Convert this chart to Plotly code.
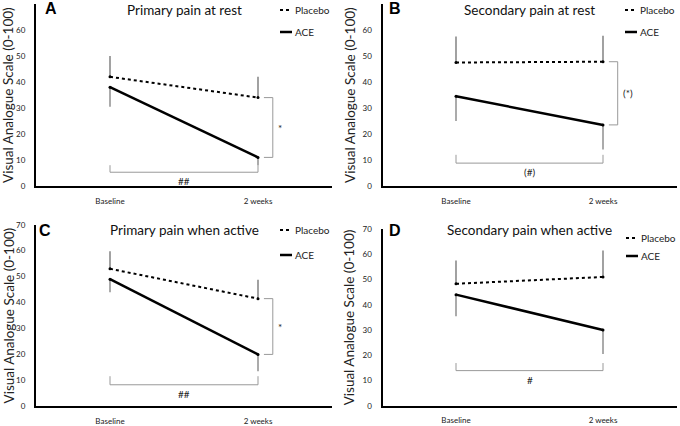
import plotly.graph_objects as go

# ---------------- data ----------------
categories = ["Baseline", "2 weeks"]
panel_letters = ["A", "B", "C", "D"]
panel_titles = ["Primary pain at rest", "Secondary pain at rest",
                "Primary pain when active", "Secondary pain when active"]

placebo_mean = [[42, 34], [47.5, 47.8], [53, 41.5], [48.3, 51]]
placebo_err_up = [[8, 8], [10, 10], [6.8, 7.3], [9.2, 10.5]]
ace_mean = [[38, 11], [34.5, 23.5], [49, 20], [44, 30]]
ace_err_down = [[7.5, 3], [9.5, 9.5], [5, 6.5], [8.6, 9.5]]

right_br_top = [34, 47.8, 41.5, None]
right_br_bottom = [11, 23.5, 20, None]
right_br_label = ["*", "(*)", "*", None]

bottom_br_level = [5.3, 8.8, 8.3, 13.9]
bottom_br_end = [8, 12, 11.6, 16.9]
bottom_br_label = ["##", "(#)", "##", "#"]

y_ticks = [0, 10, 20, 30, 40, 50, 60, 70]
y_title = "Visual Analogue Scale (0-100)"

# ---------------- layout geometry (pixels) ----------------
W, H = 680, 426
FONT = "Lato"
# (x0, x1, y_bottom, y_top) in pixels
panel_px = [(36, 332, 186, 4), (382.5, 676.5, 186, 4),
            (36, 332, 406.3, 224.7), (382.5, 676.5, 405.7, 229)]
title_py = [10, 10, 230, 230]
ytitle_px = [8, 350, 8, 349]
letter_px = [(51, 9), (395, 8), (45, 230), (395, 230)]
legend_px = [(280, 10, 32), (625, 10, 32), (280, 230, 255), (626, 238, 256)]


def px(x):
    return x / W


def py(y):
    return 1 - y / H


fig = go.Figure()
shapes = []
annotations = []
layout = {}

for i in range(4):
    sfx = "" if i == 0 else str(i + 1)
    xa, ya = "x" + sfx, "y" + sfx
    x0, x1, yb, yt = panel_px[i]
    layout["xaxis" + sfx] = dict(
        domain=[px(x0), px(x1)], range=[-0.5, 1.5], anchor=ya,
        tickvals=[0, 1], ticktext=categories, showline=True,
        linecolor="black", linewidth=2, ticks="", showgrid=False,
        zeroline=False, automargin=False,
        tickfont=dict(family=FONT, size=8, color="#222"),
        ticklabelstandoff=6, fixedrange=True)
    layout["yaxis" + sfx] = dict(
        domain=[py(yb), py(yt)], range=[0, 70], anchor=xa,
        tickvals=y_ticks, showline=True, linecolor="black", linewidth=2,
        ticks="", showgrid=False, zeroline=False, automargin=False,
        tickfont=dict(family=FONT, size=8, color="#222"),
        ticklabelstandoff=7, fixedrange=True)

    xs = [0, 1]
    fig.add_trace(go.Scatter(
        x=xs, y=placebo_mean[i], xaxis=xa, yaxis=ya, mode="lines+markers",
        line=dict(color="black", width=2, dash="dot"),
        marker=dict(size=3, color="black"), showlegend=False,
        error_y=dict(type="data", array=placebo_err_up[i],
                     arrayminus=[0, 0], symmetric=False, width=0,
                     thickness=1.1, color="#555")))
    fig.add_trace(go.Scatter(
        x=xs, y=ace_mean[i], xaxis=xa, yaxis=ya, mode="lines+markers",
        line=dict(color="black", width=2.5),
        marker=dict(size=3, color="black"), showlegend=False,
        error_y=dict(type="data", array=[0, 0],
                     arrayminus=ace_err_down[i], symmetric=False, width=0,
                     thickness=1.1, color="#666")))

    # right bracket
    if right_br_top[i] is not None:
        t, b = right_br_top[i], right_br_bottom[i]
        shapes.append(dict(
            type="path", xref=xa, yref=ya,
            path=f"M 1.04 {t} L 1.10 {t} L 1.10 {b} L 1.04 {b}",
            line=dict(color="#999", width=1)))
        annotations.append(dict(
            x=1.10, y=(t + b) / 2, xref=xa, yref=ya, text=right_br_label[i],
            showarrow=False, xanchor="left", yanchor="middle", xshift=3,
            font=dict(family=FONT, size=10, color="#222")))
    # bottom bracket
    lv, en = bottom_br_level[i], bottom_br_end[i]
    shapes.append(dict(
        type="path", xref=xa, yref=ya,
        path=f"M 0 {en} L 0 {lv} L 1 {lv} L 1 {en}",
        line=dict(color="#999", width=1)))
    annotations.append(dict(
        x=0.5, y=lv, xref=xa, yref=ya, text=bottom_br_label[i],
        showarrow=False, xanchor="center", yanchor="top", yshift=-1,
        font=dict(family=FONT, size=10, color="#222")))

    # title
    annotations.append(dict(
        x=px((x0 + x1) / 2), y=py(title_py[i]), xref="paper",
        yref="paper", text=panel_titles[i], showarrow=False,
        xanchor="center", yanchor="middle",
        font=dict(family=FONT, size=13.5, color="#111")))
    # panel letter
    lx, ly = letter_px[i]
    annotations.append(dict(
        x=px(lx), y=py(ly), xref="paper", yref="paper",
        text="<b>" + panel_letters[i] + "</b>", showarrow=False,
        xanchor="center", yanchor="middle",
        font=dict(family="Liberation Sans", size=16, color="black")))
    # y-axis title
    annotations.append(dict(
        x=px(ytitle_px[i]), y=py((yb + yt) / 2), xref="paper", yref="paper",
        text=y_title, showarrow=False, textangle=-90,
        xanchor="center", yanchor="middle",
        font=dict(family=FONT, size=13.5, color="#222")))
    # legend
    lx0, ly_p, ly_a = legend_px[i]
    shapes.append(dict(type="line", xref="paper", yref="paper",
                       x0=px(lx0), x1=px(lx0 + 12), y0=py(ly_p), y1=py(ly_p),
                       line=dict(color="black", width=2, dash="dot")))
    shapes.append(dict(type="line", xref="paper", yref="paper",
                       x0=px(lx0), x1=px(lx0 + 12), y0=py(ly_a), y1=py(ly_a),
                       line=dict(color="black", width=2.5)))
    for yy, name in ((ly_p, "Placebo"), (ly_a, "ACE")):
        annotations.append(dict(
            x=px(lx0 + 13), y=py(yy), xref="paper", yref="paper", text=name,
            showarrow=False, xanchor="left", yanchor="middle",
            font=dict(family=FONT, size=10, color="#222")))

fig.update_layout(
    width=W, height=H, margin=dict(l=0, r=0, t=0, b=0, autoexpand=False),
    plot_bgcolor="white", paper_bgcolor="white",
    shapes=shapes, annotations=annotations, **layout)

fig.write_html("out.html", config={"displayModeBar": False},
               post_script="document.body.style.margin='0';")
